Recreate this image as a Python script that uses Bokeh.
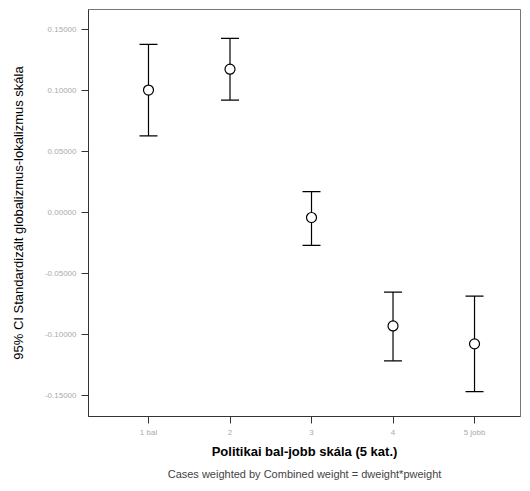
from bokeh.plotting import figure
from bokeh.models import ColumnDataSource, Whisker, FixedTicker, Title, Range1d
from bokeh.embed import file_html
from bokeh.resources import INLINE

categories = [1, 2, 3, 4, 5]
cat_labels = ["1 bal", "2", "3", "4", "5 jobb"]
means = [0.1003, 0.1174, -0.0041, -0.0929, -0.1076]
upper = [0.1378, 0.1427, 0.0171, -0.0652, -0.0685]
lower = [0.0628, 0.0921, -0.0269, -0.1215, -0.1467]
y_ticks = [0.15, 0.10, 0.05, 0.0, -0.05, -0.10, -0.15]
y_tick_labels = ["0.15000", "0.10000", "0.05000", "0.00000", "-0.05000", "-0.10000", "-0.15000"]

src = ColumnDataSource(dict(x=categories, m=means, up=upper, lo=lower))

p = figure(width=522, height=483, output_backend="svg", toolbar_location=None,
           x_range=Range1d(0.264, 5.564), y_range=Range1d(-0.1671, 0.1663),
           min_border_left=88, min_border_right=2, min_border_top=9, min_border_bottom=65)
p.grid.visible = False
p.outline_line_color = "#777777"
p.outline_line_width = 1
p.background_fill_color = "white"
p.border_fill_color = "white"

w = Whisker(source=src, base="x", upper="up", lower="lo", line_color="black", line_width=1.2)
w.upper_head.size = 18
w.lower_head.size = 18
w.upper_head.line_color = "black"
w.lower_head.line_color = "black"
w.upper_head.line_width = 1.2
w.lower_head.line_width = 1.2
p.add_layout(w)
p.scatter("x", "m", source=src, size=10, marker="circle", fill_color="white",
          line_color="black", line_width=1.2)

p.xaxis.ticker = FixedTicker(ticks=categories)
p.xaxis.major_label_overrides = {c: l for c, l in zip(categories, cat_labels)}
p.yaxis.ticker = FixedTicker(ticks=y_ticks)
p.yaxis.major_label_overrides = {t: l for t, l in zip(y_ticks, y_tick_labels)}
for ax in (p.xaxis, p.yaxis):
    ax.minor_tick_line_color = None
    ax.major_tick_out = 7
    ax.major_tick_in = 0
    ax.axis_line_color = "#333333"
    ax.major_tick_line_color = "#333333"
    ax.major_label_text_color = "#aaaaaa"
    ax.major_label_text_font_size = "8px"
    ax.major_label_text_font = "Liberation Sans"
    ax.axis_label_text_font = "Liberation Sans"
    ax.axis_label_text_font_style = "normal"
    ax.axis_label_text_color = "black"

p.xaxis.major_label_standoff = 4
p.xaxis.axis_label = "Politikai bal-jobb skála (5 kat.)"
p.xaxis.axis_label_text_font_style = "bold"
p.xaxis.axis_label_text_font_size = "13px"
p.xaxis.axis_label_standoff = 4
p.yaxis.axis_label = "95% CI Standardizált globalizmus-lokalizmus skála"
p.yaxis.axis_label_text_font_size = "13px"
p.yaxis.axis_label_standoff = 16

foot = Title(text="Cases weighted by Combined weight = dweight*pweight", align="center",
             text_font="Liberation Sans", text_font_size="11px", text_font_style="normal",
             standoff=8)
p.add_layout(foot, "below")

open("out.html", "w").write(file_html(p, INLINE))
